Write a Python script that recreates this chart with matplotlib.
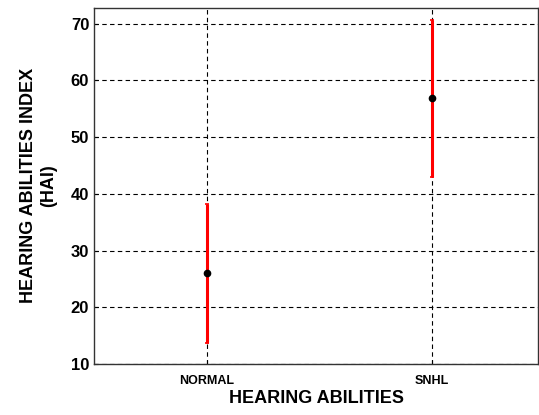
import matplotlib.pyplot as plt
import numpy as np

plt.rcParams['font.family'] = ['Liberation Sans', 'DejaVu Sans']
plt.rcParams['font.weight'] = 'bold'

# data
groups = ['NORMAL', 'SNHL']
means = [26.0, 56.9]
lows = [13.7, 43.0]
highs = [38.2, 70.7]

x = np.arange(1, len(groups) + 1)
means_arr = np.array(means)
err = [means_arr - np.array(lows), np.array(highs) - means_arr]

fig = plt.figure(figsize=(5.39, 4.15), dpi=100)
ax = fig.add_axes([0.1744, 0.123, 0.824, 0.858])

ax.errorbar(x, means, yerr=err, fmt='none', ecolor='red', elinewidth=2.2,
            capsize=1.5, capthick=1.2, zorder=3)
ax.plot(x, means, 'o', color='black', markersize=4.5, zorder=4)

ax.set_xlim(0.5, 2.47)
ax.set_ylim(10, 72.8)
ax.set_xticks(x)
ax.set_xticklabels(groups, fontsize=9, fontweight='bold')
ax.set_yticks([10, 20, 30, 40, 50, 60, 70])
ax.tick_params(axis='y', labelsize=12, direction='in', length=3)
ax.tick_params(axis='x', direction='in', length=3, pad=8)
ax.grid(True, color='black', linestyle=(0, (4, 3)), linewidth=0.8)

ax.set_xlabel('HEARING ABILITIES', fontsize=13, fontweight='bold', labelpad=2)
ax.set_ylabel('HEARING ABILITIES INDEX\n(HAI)', fontsize=13, fontweight='bold',
              labelpad=10)

for s in ax.spines.values():
    s.set_linewidth(1.0)
    s.set_color('#333333')

fig.savefig('out.png', dpi=100)
